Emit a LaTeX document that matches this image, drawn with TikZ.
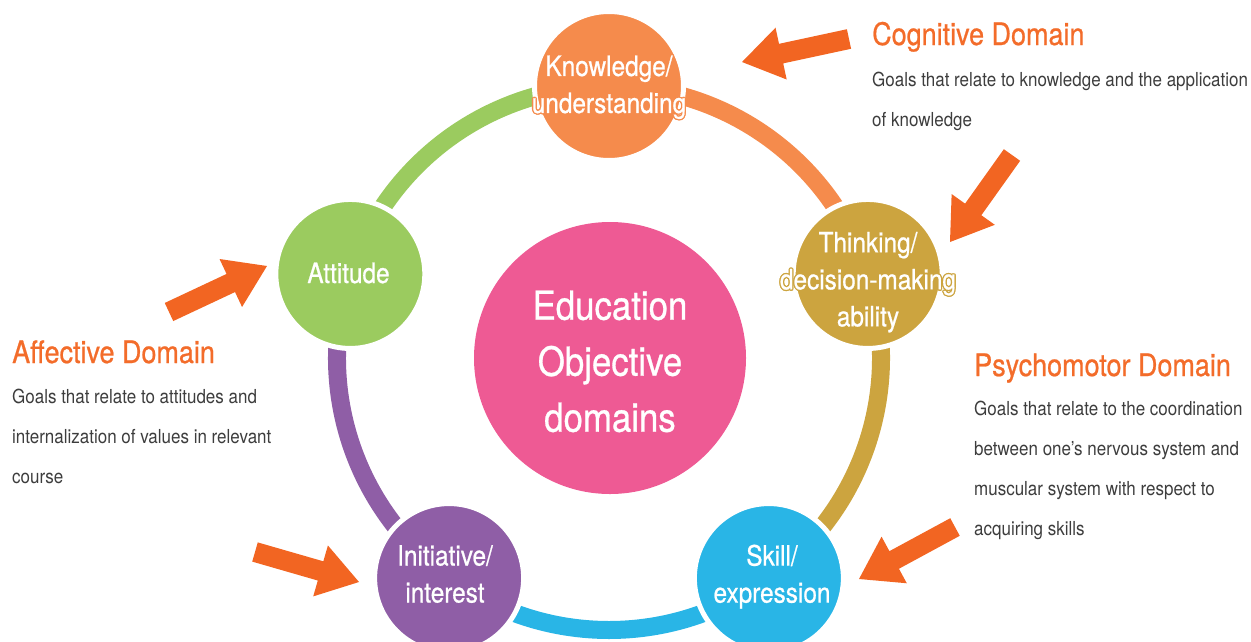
\documentclass[tikz,border=0pt]{standalone}
\usepackage{fontspec}
\setmainfont{TeX Gyre Heros}[FakeStretch=0.88]
\newfontfamily\medfont{TeX Gyre Heros}[FakeStretch=0.87, FakeBold=0.7]
\usetikzlibrary{calc}
\pgfdeclarelayer{background}
\pgfsetlayers{background,main}
\definecolor{cK}{HTML}{F58B4C}
\definecolor{cT}{HTML}{CCA43F}
\definecolor{cS}{HTML}{29B5E6}
\definecolor{cI}{HTML}{8F5EA6}
\definecolor{cA}{HTML}{9BCB5F}
\definecolor{cP}{HTML}{EE5A94}
\definecolor{arrowO}{HTML}{F26522}
\definecolor{headO}{HTML}{F36C2A}
\definecolor{bodyG}{HTML}{3D3D3D}
% outlined text: copies in colour #1 around, text on top in current colour
\newcommand{\otxt}[2]{{\setbox0=\hbox{#2}%
  {\color{#1}%
   \rlap{\kern-1.3pt\copy0}\rlap{\kern1.3pt\copy0}%
   \rlap{\raise1.3pt\copy0}\rlap{\lower1.3pt\copy0}%
   \rlap{\kern-0.9pt\raise0.9pt\copy0}\rlap{\kern0.9pt\raise0.9pt\copy0}%
   \rlap{\kern-0.9pt\lower0.9pt\copy0}\rlap{\kern0.9pt\lower0.9pt\copy0}}%
  \copy0}}
% block arrow: name, tail, tip
\newcommand{\bigarrow}[3]{%
  \coordinate (#1h) at ($(#3)!40pt!(#2)$);
  \fill[barrow] ($(#2)!10pt!90:(#3)$) -- ($(#1h)!10pt!90:(#3)$)
    -- ($(#1h)!26.5pt!90:(#3)$) -- (#3) -- ($(#1h)!26.5pt!-90:(#3)$)
    -- ($(#1h)!10pt!-90:(#3)$) -- ($(#2)!10pt!-90:(#3)$) -- cycle;}
\begin{document}
\begin{tikzpicture}[x=1pt,y=-1pt,
  ring/.style={line width=18pt},
  dom/.style={circle, minimum size=149pt, inner sep=0pt, draw=white, line width=5pt},
  lbl/.style={text=white, align=center, inner sep=0pt, font=\medfont\fontsize{28}{37}\selectfont},
  head/.style={text=headO, anchor=base west, inner sep=0pt, font=\medfont\fontsize{31}{37}\selectfont},
  body/.style={text=bodyG, anchor=north west, inner sep=0pt, align=left, font=\fontsize{19.3}{40}\selectfont},
  barrow/.style={fill=arrowO}]
\useasboundingbox (0,0) rectangle (1251,641);
\coordinate (O) at (609,358);
% domain circles
\node[dom, fill=cK] (K) at ($(O)+(-90:272)$) {};
\node[dom, fill=cT] (T) at ($(O)+(-18:272)$) {};
\node[dom, fill=cS] (S) at ($(O)+(54:272)$) {};
\node[dom, fill=cI] (I) at ($(O)+(126:272)$) {};
\node[dom, fill=cA] (A) at ($(O)+(198:272)$) {};
% ring arcs
\begin{pgfonlayer}{background}
\draw[ring, cK] (K.center) arc[start angle=-90, end angle=-18, radius=272];
\draw[ring, cT] (T.center) arc[start angle=-18, end angle=54, radius=272];
\draw[ring, cS] (S.center) arc[start angle=54, end angle=126, radius=272];
\draw[ring, cI] (I.center) arc[start angle=126, end angle=198, radius=272];
\draw[ring, cA] (A.center) arc[start angle=198, end angle=270, radius=272];
\end{pgfonlayer}
% centre
\node[circle, fill=cP, minimum size=272pt, inner sep=0pt] (C) at (610,358) {};
\node[lbl, font=\medfont\fontsize{40}{56}\selectfont] (Ct) at (610,361.4) {Education\\Objective\\domains};
% labels
\node[lbl] (Kt) at (609,87.3) {\otxt{cK}{Knowledge/}\\\otxt{cK}{understanding}};
\node[lbl] (Tt) at (868,282.2) {\otxt{cT}{Thinking/}\\\otxt{cT}{decision-making}\\\otxt{cT}{ability}};
\node[lbl] (St) at (772,576.7) {\otxt{cS}{Skill/}\\\otxt{cS}{expression}};
\node[lbl] (It) at (445,574) {\otxt{cI}{Initiative/}\\\otxt{cI}{interest}};
\node[lbl] (At) at (348.5,273) {\otxt{cA}{Attitude}};
% texts
\node[head] (cogh) at (872,45) {Cognitive Domain};
\node[body] (cogb) at (872,71.8) {Goals that relate to knowledge and the application\\of knowledge};
\node[head] (affh) at (12,363) {Affective Domain};
\node[body] (affb) at (12,388.8) {Goals that relate to attitudes and\\internalization of values in relevant\\course};
\node[head] (psyh) at (974,376) {Psychomotor Domain};
\node[body] (psyb) at (974,400.8) {Goals that relate to the coordination\\between one’s nervous system and\\muscular system with respect to\\acquiring skills};
% arrows
\coordinate (a1t) at (849,39);   \coordinate (a1p) at (742,62);
\coordinate (a2t) at (1012,155); \coordinate (a2p) at (950,242);
\coordinate (a3t) at (169,312);  \coordinate (a3p) at (267,266);
\coordinate (a4t) at (255,552);  \coordinate (a4p) at (359,582);
\coordinate (a5t) at (955,527);  \coordinate (a5p) at (859,579);
\bigarrow{a1}{a1t}{a1p}
\bigarrow{a2}{a2t}{a2p}
\bigarrow{a3}{a3t}{a3p}
\bigarrow{a4}{a4t}{a4p}
\bigarrow{a5}{a5t}{a5p}
\end{tikzpicture}
\end{document}
